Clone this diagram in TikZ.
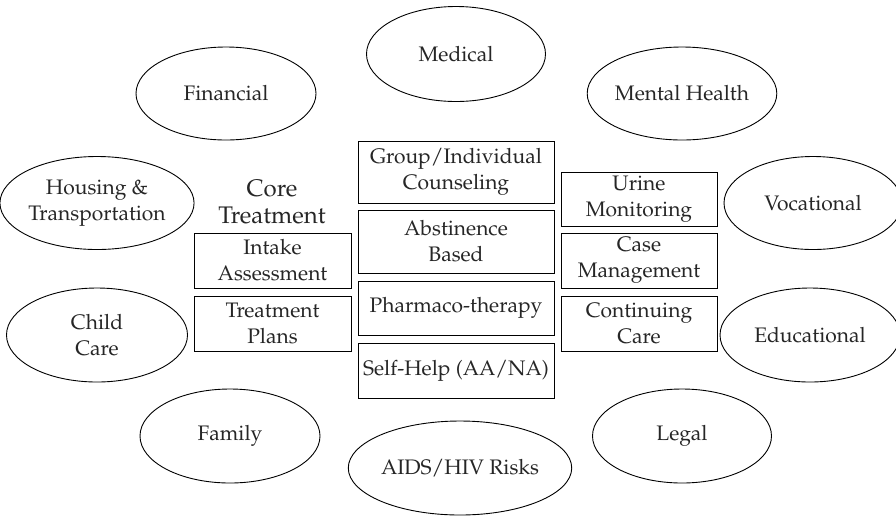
\documentclass[tikz,border=0pt]{standalone}
\usepackage[T1]{fontenc}
\usepackage{mathpazo}
\usetikzlibrary{shapes.geometric}
\tikzset{
  oval/.style={ellipse, draw=black, line width=0.9pt, inner sep=0pt,
    minimum width=179pt, minimum height=94pt, align=center,
    font=\fontsize{21}{26}\selectfont, text=black!85},
  tbox/.style={rectangle, draw=black, line width=0.9pt, inner sep=0pt,
    minimum height=55pt, align=center,
    font=\fontsize{21}{26}\selectfont, text=black!85},
  midbox/.style={tbox, minimum width=196pt},
  sidebox/.style={tbox, minimum width=156pt},
  title/.style={align=center, inner sep=0pt,
    font=\fontsize{24}{27}\selectfont, text=black!85}
}
\begin{document}
\begin{tikzpicture}[x=1pt,y=-1pt]
\useasboundingbox (0,0) rectangle (896,515);
% outer ellipses
\node[oval, minimum height=95pt] (medical) at (456,54) {Medical};
\node[oval, minimum width=180pt, minimum height=93pt] (financial) at (226,93.5) {Financial};
\node[oval, minimum height=93pt] (mental) at (682,93.5) {Mental Health};
\node[oval, minimum width=181pt, minimum height=93pt] (housing) at (97,203) {Housing \&\\Transportation};
\node[oval, minimum width=178pt, minimum height=93pt] (vocational) at (813,203) {Vocational};
\node[oval, minimum width=181pt] (child) at (97,335) {Child\\Care};
\node[oval, minimum width=180pt] (educational) at (810,335) {Educational};
\node[oval, minimum width=180pt] (family) at (230,436) {Family};
\node[oval, minimum width=178pt] (aids) at (460,468) {AIDS/HIV Risks};
\node[oval] (legal) at (682,436) {Legal};
% core treatment
\node[title] (core) at (272,202) {Core\\Treatment};
\node[midbox, minimum height=62pt] (group) at (456,172) {Group/Individual\\Counseling};
\node[midbox, minimum height=63pt] (abst) at (456,241.5) {Abstinence\\Based};
\node[midbox, minimum height=54pt] (pharm) at (456,308) {Pharmaco-therapy};
\node[midbox] (self) at (456,370.5) {Self-Help (AA/NA)};
\node[sidebox, minimum width=157pt] (intake) at (272.5,260.5) {Intake\\Assessment};
\node[sidebox, minimum width=157pt] (plans) at (272.5,323.5) {Treatment\\Plans};
\node[sidebox, minimum height=54pt] (urine) at (639,199) {Urine\\Monitoring};
\node[sidebox] (case) at (639,260.5) {Case\\Management};
\node[sidebox] (cont) at (639,323.5) {Continuing\\Care};
\end{tikzpicture}
\end{document}
